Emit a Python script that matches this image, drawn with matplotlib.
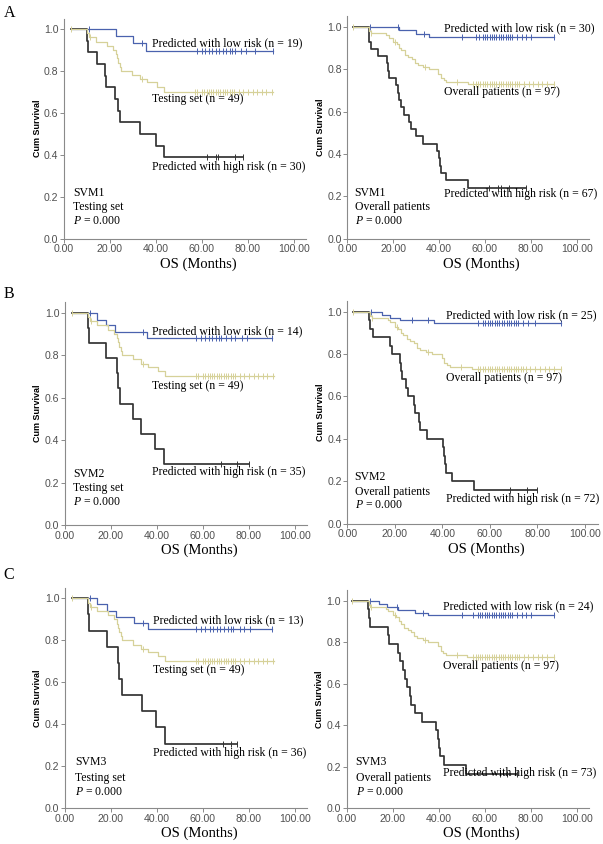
import numpy as np
import matplotlib
matplotlib.use("Agg")
import matplotlib.pyplot as plt

plt.rcParams["mathtext.fontset"] = "custom"
plt.rcParams["mathtext.rm"] = "Liberation Serif"
plt.rcParams["mathtext.it"] = "Liberation Serif:italic"

SERIF = "Liberation Serif"
SANS = "Liberation Sans"
BLUE = "#4a62ae"
TAN = "#d6d199"
DARK = "#333333"
AXIS = "#8a8a8a"

# ---- shared reference curves ----
# testing set (n = 49), used in all left panels
test_times = [10, 11, 14, 18.5, 21.5, 22.5, 23, 23.5, 24.5, 25, 29.5, 33, 36, 40.5, 43.5]
test_surv = [0.98, 0.96, 0.94, 0.92, 0.90, 0.88, 0.86, 0.84, 0.82, 0.80, 0.78, 0.76, 0.745, 0.725, 0.70]
test_cens = [3, 11.5, 34, 57, 58, 60, 61, 62, 63, 64, 65, 66, 67, 68, 69, 70, 71, 72,
             73, 74, 76, 78, 80, 82, 84, 86, 88, 90.5]
test_end = 91

# overall patients (n = 97), used in all right panels
all_times = [9.5, 10.2, 17, 18, 20, 21.5, 22.7, 23.5, 25, 26.5, 28, 29.3, 30.7, 33,
             35.5, 39.7, 40.8, 42, 43, 52.5]
all_surv = [0.98, 0.97, 0.96, 0.95, 0.93, 0.92, 0.90, 0.89, 0.87, 0.86, 0.85, 0.83,
            0.82, 0.81, 0.80, 0.78, 0.76, 0.75, 0.74, 0.73]
all_cens = [2.5, 10.5, 21, 34, 48, 55, 56, 57, 58, 59, 60, 61, 62, 63, 64, 65, 66, 67,
            68, 69, 70, 71, 72, 73, 74, 75, 77, 79, 81, 83, 85, 87, 90]
all_end = 90

# ---- SVM1 ----
a_low_times = [22.5, 30, 35.5]
a_low_surv = [0.966, 0.932, 0.897]
a_low_cens = [11, 34, 58, 60, 61.5, 63, 64.5, 66, 67.5, 69, 70.5, 72, 73, 74.5, 77, 79, 83, 91]
a_low_end = 91
a_high_times = [10, 10.5, 14.2, 18, 18.3, 22.2, 23.6, 24.4, 33.2, 39.8, 43.6]
a_high_surv = [0.944, 0.889, 0.833, 0.778, 0.722, 0.667, 0.611, 0.556, 0.5, 0.444, 0.389]
a_high_cens = [62, 66.3, 67, 74.5, 78]
a_high_end = 78

ar_low_times = [22.7, 30, 35.7]
ar_low_surv = [0.984, 0.968, 0.952]
ar_low_cens = [10, 22, 33.5, 50, 56, 57.5, 59, 60, 61, 62, 63, 64, 65, 66, 67, 68, 69,
               70, 71, 72, 74, 76, 78, 80, 90]
ar_low_end = 90
ar_high_times = [9.3, 9.6, 10.2, 13.3, 17.3, 17.8, 18.3, 21.2, 22, 22.7, 23.5, 24.8, 27,
                 27.8, 30, 32.8, 39.3, 39.8, 40.2, 40.8, 43, 52.5]
ar_high_surv = [0.966, 0.931, 0.897, 0.862, 0.828, 0.793, 0.759, 0.724, 0.690, 0.655,
                0.621, 0.586, 0.552, 0.517, 0.483, 0.448, 0.414, 0.379, 0.345, 0.310,
                0.276, 0.241]
ar_high_cens = [61.7, 65.6, 66.8, 70.4, 78]
ar_high_end = 78

# ---- SVM2 ----
b_low_times = [13.8, 17.8, 21.7, 35.5]
b_low_surv = [0.964, 0.94, 0.91, 0.879]
b_low_cens = [11, 34, 57, 59, 61, 62.5, 64, 65.5, 67, 68, 70, 72, 74, 77, 79, 90]
b_low_end = 90
b_high_times = [10, 10.5, 17.8, 22.5, 23.2, 24, 29.7, 32.9, 39, 43.2]
b_high_surv = [0.929, 0.857, 0.786, 0.714, 0.643, 0.571, 0.5, 0.429, 0.357, 0.286]
b_high_cens = [68, 74.6, 80]
b_high_end = 80

br_low_times = [14.5, 18, 22, 36.5]
br_low_surv = [0.985, 0.97, 0.962, 0.945]
br_low_cens = [10, 27.3, 34, 55, 57, 58, 59, 60, 61, 62, 63, 64, 65, 66, 67, 68, 69, 70,
               71, 72, 74, 76, 79, 90]
br_low_end = 90
br_high_times = [9.3, 9.7, 10.7, 18, 18.7, 22, 22.5, 23, 24.5, 25.5, 28, 28.5, 30.2,
                 30.6, 33.4, 40.1, 40.5, 41, 41.5, 44, 53.3]
br_high_surv = [0.96, 0.92, 0.88, 0.84, 0.80, 0.76, 0.72, 0.68, 0.64, 0.60, 0.56, 0.52,
                0.48, 0.44, 0.40, 0.36, 0.32, 0.28, 0.24, 0.20, 0.16]
br_high_cens = [68.6, 75.7, 80]
br_high_end = 80

# ---- SVM3 ----
c_low_times = [14, 18.3, 22.2, 30.1, 35.9]
c_low_surv = [0.971, 0.941, 0.913, 0.884, 0.854]
c_low_cens = [11, 34, 57, 59, 61, 63, 64.5, 66, 67.5, 69, 71, 72, 73, 76, 78, 80.5, 90]
c_low_end = 90
c_high_times = [10, 10.5, 18.3, 22.9, 23.6, 24.6, 33.3, 39.7, 43.6]
c_high_surv = [0.923, 0.846, 0.769, 0.692, 0.615, 0.538, 0.462, 0.385, 0.308]
c_high_cens = [68.6, 72.2, 75]
c_high_end = 75

cr_low_times = [14, 17.4, 22.4, 29.6, 35.3]
cr_low_surv = [0.985, 0.97, 0.955, 0.94, 0.93]
cr_low_cens = [10, 22, 33, 50, 55, 57, 58, 59, 60, 61, 62, 63, 64, 65, 66, 67, 68, 69,
               70, 71, 72, 74, 76, 78, 80, 90]
cr_low_end = 90
cr_high_times = [9.3, 9.7, 10.3, 17.9, 18.4, 22.1, 23, 24.4, 25.3, 26.4, 27.4, 27.9,
                 29.9, 32.7, 38.9, 39.6, 40.3, 40.7, 42.4, 51.7]
cr_high_surv = [0.958, 0.917, 0.875, 0.833, 0.792, 0.75, 0.708, 0.667, 0.625, 0.583,
                0.542, 0.5, 0.458, 0.417, 0.375, 0.333, 0.292, 0.25, 0.208, 0.167]
cr_high_cens = [66.7, 69.6, 74]
cr_high_end = 74

low_n = [19, 30, 14, 25, 13, 24]
high_n = [30, 67, 35, 72, 36, 73]
models = ["SVM1", "SVM1", "SVM2", "SVM2", "SVM3", "SVM3"]
xticks = [0, 20, 40, 60, 80, 100]
yticks = [0.0, 0.2, 0.4, 0.6, 0.8, 1.0]

W, H = 603, 844
fig = plt.figure(figsize=(W / 100, H / 100), dpi=100)


def km(ax, start, times, surv, end, cens, color, lw, z):
    x = np.r_[start, times, end]
    y = np.r_[1.0, surv, surv[-1]]
    ax.step(x, y, where="post", color=color, lw=lw, zorder=z)
    idx = np.searchsorted(x, cens, side="right") - 1
    ax.plot(cens, y[idx], ls="none", marker="|", ms=4, mew=0.7, color=color, zorder=z)


def make_axes(x0, x100, y0, y1):
    # pixel positions of x=0, x=100, y=0, y=1.0
    xmax, ymax = 105.3, 1.05
    wpx = (x100 - x0) / 100 * xmax
    hpx = (y0 - y1) * ymax
    ax = fig.add_axes([x0 / W, (H - y0) / H, wpx / W, hpx / H])
    ax.set_xlim(0, xmax)
    ax.set_ylim(0, ymax)
    for s in ["top", "right"]:
        ax.spines[s].set_visible(False)
    for s in ["left", "bottom"]:
        ax.spines[s].set_color(AXIS)
        ax.spines[s].set_linewidth(0.8)
    ax.set_xticks(xticks)
    ax.set_xticklabels([f"{v:.2f}" for v in xticks])
    ax.set_yticks(yticks)
    ax.set_yticklabels([f"{v:.1f}" for v in yticks])
    ax.tick_params(length=3, width=0.7, color=AXIS, pad=1, labelsize=7.6,
                   labelcolor="#505050")
    for lab in ax.get_xticklabels() + ax.get_yticklabels():
        lab.set_family(SANS)
    ax.text(0.555, -0.115, "OS (Months)", transform=ax.transAxes, ha="center",
            va="center", family=SERIF, fontsize=10.5)
    ax.text(-27 / wpx, 0.5, "Cum Survival", transform=ax.transAxes, rotation=90,
            ha="center", va="center", family=SANS, fontsize=6.5, fontweight="bold")
    return ax


panels = [
    # pixel box, low curve, high curve, group curve, label positions
    dict(box=(64, 294, 238.7, 29), grp="test",
         low=(a_low_times, a_low_surv, a_low_end, a_low_cens),
         high=(a_high_times, a_high_surv, a_high_end, a_high_cens),
         lx=38.3, ly=(0.932, 0.665, 0.343), sx=4.0, sy=(0.218, 0.151, 0.084)),
    dict(box=(347.3, 576.7, 238.7, 27), grp="all",
         low=(ar_low_times, ar_low_surv, ar_low_end, ar_low_cens),
         high=(ar_high_times, ar_high_surv, ar_high_end, ar_high_cens),
         lx=42.2, ly=(0.992, 0.693, 0.213), sx=3.2, sy=(0.215, 0.148, 0.083)),
    dict(box=(65, 295, 525, 312.7), grp="test",
         low=(b_low_times, b_low_surv, b_low_end, b_low_cens),
         high=(b_high_times, b_high_surv, b_high_end, b_high_cens),
         lx=38.0, ly=(0.911, 0.655, 0.251), sx=3.6, sy=(0.24, 0.176, 0.11)),
    dict(box=(347.3, 585, 523.5, 311.7), grp="all",
         low=(br_low_times, br_low_surv, br_low_end, br_low_cens),
         high=(br_high_times, br_high_surv, br_high_end, br_high_cens),
         lx=41.5, ly=(0.983, 0.688, 0.118), sx=3.1, sy=(0.218, 0.151, 0.085)),
    dict(box=(65, 295, 808.3, 598.3), grp="test",
         low=(c_low_times, c_low_surv, c_low_end, c_low_cens),
         high=(c_high_times, c_high_surv, c_high_end, c_high_cens),
         lx=38.1, ly=(0.894, 0.659, 0.265), sx=4.3, sy=(0.22, 0.144, 0.078)),
    dict(box=(346.7, 576.7, 808.3, 600.7), grp="all",
         low=(cr_low_times, cr_low_surv, cr_low_end, cr_low_cens),
         high=(cr_high_times, cr_high_surv, cr_high_end, cr_high_cens),
         lx=41.7, ly=(0.973, 0.687, 0.169), sx=3.9, sy=(0.223, 0.146, 0.079)),
]

for i, p in enumerate(panels):
    ax = make_axes(*p["box"])
    if p["grp"] == "test":
        start, gt, gs, ge, gc = 3, test_times, test_surv, test_end, test_cens
        gname, sub = "Testing set (n = 49)", "Testing set"
    else:
        start, gt, gs, ge, gc = 2.5, all_times, all_surv, all_end, all_cens
        gname, sub = "Overall patients (n = 97)", "Overall patients"
    lt, ls_, le, lc = p["low"]
    ht, hs, he, hc = p["high"]
    km(ax, start, lt, ls_, le, lc, BLUE, 0.9, 3)
    km(ax, start, ht, hs, he, hc, DARK, 1.25, 3)
    km(ax, start, gt, gs, ge, gc, TAN, 0.9, 4)

    ly = p["ly"]
    ax.text(p["lx"], ly[0], f"Predicted with low risk (n = {low_n[i]})",
            family=SERIF, fontsize=8.5, va="center", zorder=6)
    ax.text(p["lx"], ly[1], gname, family=SERIF, fontsize=8.5, va="center")
    ax.text(p["lx"], ly[2], f"Predicted with high risk (n = {high_n[i]})",
            family=SERIF, fontsize=8.5, va="center")
    sy = p["sy"]
    ax.text(p["sx"], sy[0], models[i], family=SERIF, fontsize=8.5, va="center")
    ax.text(p["sx"], sy[1], sub, family=SERIF, fontsize=8.5, va="center")
    ax.text(p["sx"], sy[2], r"$P$ = 0.000", family=SERIF, fontsize=8.5, va="center")

for lab, ypx in [("A", 13), ("B", 294), ("C", 575)]:
    fig.text(3.5 / W, 1 - ypx / H, lab, family=SERIF, fontsize=11.5, va="center",
             ha="left")

fig.savefig("out.png", dpi=100)
